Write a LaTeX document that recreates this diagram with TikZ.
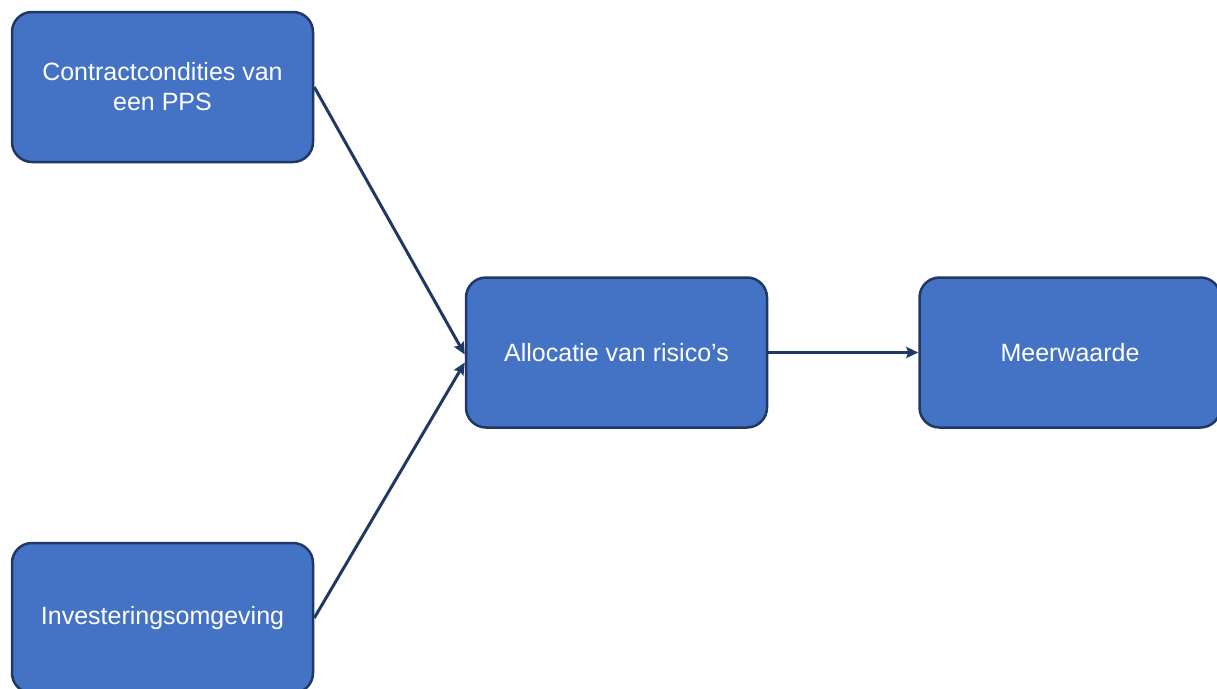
\documentclass[tikz,border=0pt]{standalone}
\usepackage{fontspec}
\setmainfont{Liberation Sans}
\usetikzlibrary{arrows.meta}
\definecolor{boxfill}{HTML}{4472C4}
\definecolor{boxline}{HTML}{203864}
\tikzset{
  procbox/.style={draw=boxline, fill=boxfill, line width=2.5pt, rounded corners=20pt,
    minimum width=301pt, minimum height=150pt, text=white, align=center,
    font=\fontsize{25}{30}\selectfont, inner sep=0pt},
  conn/.style={draw=boxline, line width=3pt, -{Stealth[length=12pt,width=11pt,inset=2pt]}}
}
\begin{document}
\begin{tikzpicture}[x=1pt,y=-1pt]
\useasboundingbox (0,0) rectangle (1217,688);
\clip (0,0) rectangle (1217,688);
\node[procbox] (a) at (162.5,87) {Contractcondities van\\een PPS};
\node[procbox] (b) at (162.5,618) {Investeringsomgeving};
\node[procbox] (c) at (616.5,352.5) {Allocatie van risico’s};
\node[procbox] (d) at (1070,352.5) {Meerwaarde};
\draw[conn] (a.east) -- ([yshift=-2pt]c.west);
\draw[conn] (b.east) -- ([yshift=-10pt]c.west);
\draw[conn] (c.east) -- (d.west);
\end{tikzpicture}
\end{document}
